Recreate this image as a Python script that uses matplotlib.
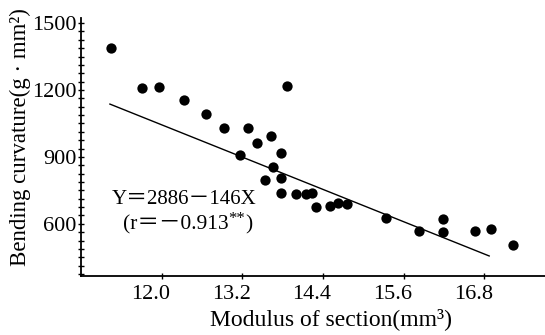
import matplotlib
matplotlib.use('Agg')
import matplotlib.pyplot as plt
from matplotlib.ticker import MultipleLocator, FixedLocator
import matplotlib.transforms as mtransforms

# data
x_vals = [11.24, 11.71, 11.96, 12.33, 12.66, 12.92, 13.28, 13.42, 13.63, 13.16,
          13.78, 13.65, 13.87, 13.53, 13.77, 13.77, 13.99, 14.15, 14.24, 14.30,
          14.51, 14.62, 14.76, 15.34, 15.82, 16.19, 16.19, 16.66, 16.89, 17.22]
y_vals = [1387, 1208, 1212, 1154, 1091, 1031, 1031, 961, 995, 909,
          919, 856, 1220, 797, 804, 740, 734, 734, 737, 674,
          680, 692, 689, 625, 568, 622, 564, 570, 575, 507]
fit_x = [11.23, 16.87]
fit_y = [1137, 456]
x_ticks = [12.0, 13.2, 14.4, 15.6, 16.8]
x_tick_labels = ['12.0', '13.2', '14.4', '15.6', '16.8']
y_ticks = [600, 900, 1200, 1500]
y_tick_labels = ['600', '900', '1200', '1500']

plt.rcParams['font.family'] = ['Liberation Serif', 'Noto Sans CJK JP', 'DejaVu Sans']

W, H = 545, 335
fig = plt.figure(figsize=(W / 100, H / 100), dpi=100)
left, right, top, bottom = 81, 545, 18, 275.7
ax = fig.add_axes([left / W, (H - bottom) / H, (right - left) / W, (bottom - top) / H])

ax.scatter(x_vals, y_vals, s=55, color='black', zorder=3, linewidths=0)
ax.plot(fit_x, fit_y, color='black', lw=1.0)

ax.set_xlim(10.8, 17.70)
ax.set_ylim(367.5, 1523)

ax.spines['top'].set_visible(False)
ax.spines['right'].set_visible(False)
for s in ['left', 'bottom']:
    ax.spines[s].set_linewidth(1.3)

ax.xaxis.set_major_locator(FixedLocator(x_ticks))
ax.set_xticklabels(x_tick_labels)
ax.yaxis.set_major_locator(FixedLocator(y_ticks))
ax.set_yticklabels(y_tick_labels)
ax.yaxis.set_minor_locator(MultipleLocator(37.5))

ax.tick_params(axis='y', which='both', direction='inout', length=5, width=1.0,
               labelsize=16, pad=1)
ax.tick_params(axis='x', which='major', direction='inout', length=5, width=1.0,
               labelsize=16, pad=4)

offset = mtransforms.ScaledTranslation(-11 / 100, 0, fig.dpi_scale_trans)
for lab in ax.get_xticklabels():
    lab.set_transform(lab.get_transform() + offset)

fig.text(331 / W, 1 - 319 / H, 'Modulus of section(mm³)', ha='center', va='center', fontsize=17)
fig.text(20 / W, 1 - 137 / H, 'Bending curvature(g · mm²)', ha='center', va='center',
         rotation=90, fontsize=16.5)

fig.text(112 / W, 1 - 200 / H, 'Y＝2886－146X', ha='left', va='center', fontsize=15)
t1 = fig.text(123 / W, 1 - 225 / H, '(r＝－0.913', ha='left', va='center', fontsize=15.5)
t2 = ax.annotate('**', xy=(1.0, 0.4), xycoords=t1, ha='left', va='bottom', fontsize=12)
t3 = ax.annotate(')', xy=(1.0, 0.0), xycoords=(t2, t1), ha='left', va='bottom', fontsize=15.5)

fig.savefig('out.png', dpi=100)
